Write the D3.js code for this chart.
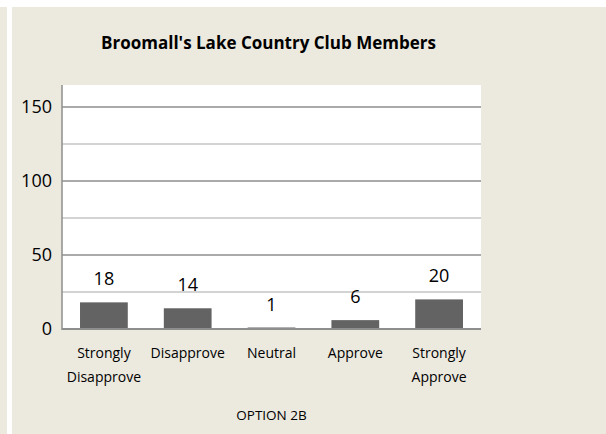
<!DOCTYPE html>
<meta charset="utf-8">
<head>
  <style>
    body { margin: 0; background: #fff; }
    text { font-family: "Open Sans", sans-serif; fill: #000; }
  </style>
</head>
<body>
  <svg width="606" height="434"></svg>
  <script src="https://d3js.org/d3.v7.min.js"></script>
  <script>
    var categories = [["Strongly", "Disapprove"], ["Disapprove"], ["Neutral"], ["Approve"], ["Strongly", "Approve"]];
    var values = [18, 14, 1, 6, 20];
    var majorTicks = [0, 50, 100, 150];
    var minorTicks = [25, 75, 125];
    var title = "Broomall's Lake Country Club Members";
    var axisTitle = "OPTION 2B";

    var svg = d3.select("svg");
    var plotLeft = 62, plotRight = 481, plotTop = 85, plotBottom = 329;

    // background panels
    svg.append("rect").attr("x", 0).attr("y", 7).attr("width", 7).attr("height", 427).attr("fill", "#ece9df");
    svg.append("rect").attr("x", 12).attr("y", 7).attr("width", 594).attr("height", 427).attr("fill", "#ece9df");
    svg.append("rect").attr("x", plotLeft).attr("y", plotTop).attr("width", plotRight - plotLeft)
      .attr("height", plotBottom - plotTop).attr("fill", "#fff");

    var x = d3.scaleBand().domain(d3.range(values.length)).range([plotLeft, plotRight]).paddingInner(0.43).paddingOuter(0.215);
    var y = d3.scaleLinear().domain([0, 150]).range([plotBottom, 107]);

    svg.selectAll(".minor").data(minorTicks).enter().append("line")
      .attr("x1", plotLeft).attr("x2", plotRight)
      .attr("y1", function(d) { return y(d); }).attr("y2", function(d) { return y(d); })
      .attr("stroke", "#c4c4c4").attr("stroke-width", 1.5);
    svg.selectAll(".major").data(majorTicks.slice(1)).enter().append("line")
      .attr("x1", plotLeft).attr("x2", plotRight)
      .attr("y1", function(d) { return y(d); }).attr("y2", function(d) { return y(d); })
      .attr("stroke", "#8e8e8e").attr("stroke-width", 1.5);

    svg.selectAll(".bar").data(values).enter().append("rect")
      .attr("x", function(d, i) { return x(i); })
      .attr("width", x.bandwidth())
      .attr("y", function(d) { return y(d); })
      .attr("height", function(d) { return plotBottom - y(d); })
      .attr("fill", "#636363");

    // axes lines
    svg.append("line").attr("x1", plotLeft).attr("x2", plotLeft).attr("y1", plotTop).attr("y2", plotBottom + 1)
      .attr("stroke", "#8e8e8e").attr("stroke-width", 1.5);
    svg.append("line").attr("x1", plotLeft).attr("x2", plotRight).attr("y1", plotBottom).attr("y2", plotBottom)
      .attr("stroke", "#8e8e8e").attr("stroke-width", 2);

    svg.selectAll(".ytick").data(majorTicks).enter().append("text")
      .attr("x", 52).attr("y", function(d) { return y(d); })
      .attr("dy", "0.36em").attr("text-anchor", "end")
      .style("font-size", "18px")
      .text(function(d) { return d; });

    svg.selectAll(".val").data(values).enter().append("text")
      .attr("x", function(d, i) { return x(i) + x.bandwidth() / 2; })
      .attr("y", function(d) { return y(d) - 17; })
      .attr("text-anchor", "middle")
      .style("font-size", "18px")
      .text(function(d) { return d; });

    var cat = svg.selectAll(".cat").data(categories).enter().append("text")
      .attr("text-anchor", "middle")
      .style("font-size", "14px");
    cat.selectAll("tspan").data(function(d, i) { return d.map(function(s) { return {s: s, i: i}; }); })
      .enter().append("tspan")
      .attr("x", function(d) { return x(d.i) + x.bandwidth() / 2; })
      .attr("y", function(d, j) { return 358 + j * 24; })
      .text(function(d) { return d.s; });

    svg.append("text").attr("x", 271.5).attr("y", 420).attr("text-anchor", "middle")
      .style("font-size", "13.5px").text(axisTitle);

    svg.append("text").attr("x", 268.5).attr("y", 49).attr("text-anchor", "middle")
      .style("font-size", "17px").style("font-weight", "bold").text(title);
  </script>
</body>
</html>
